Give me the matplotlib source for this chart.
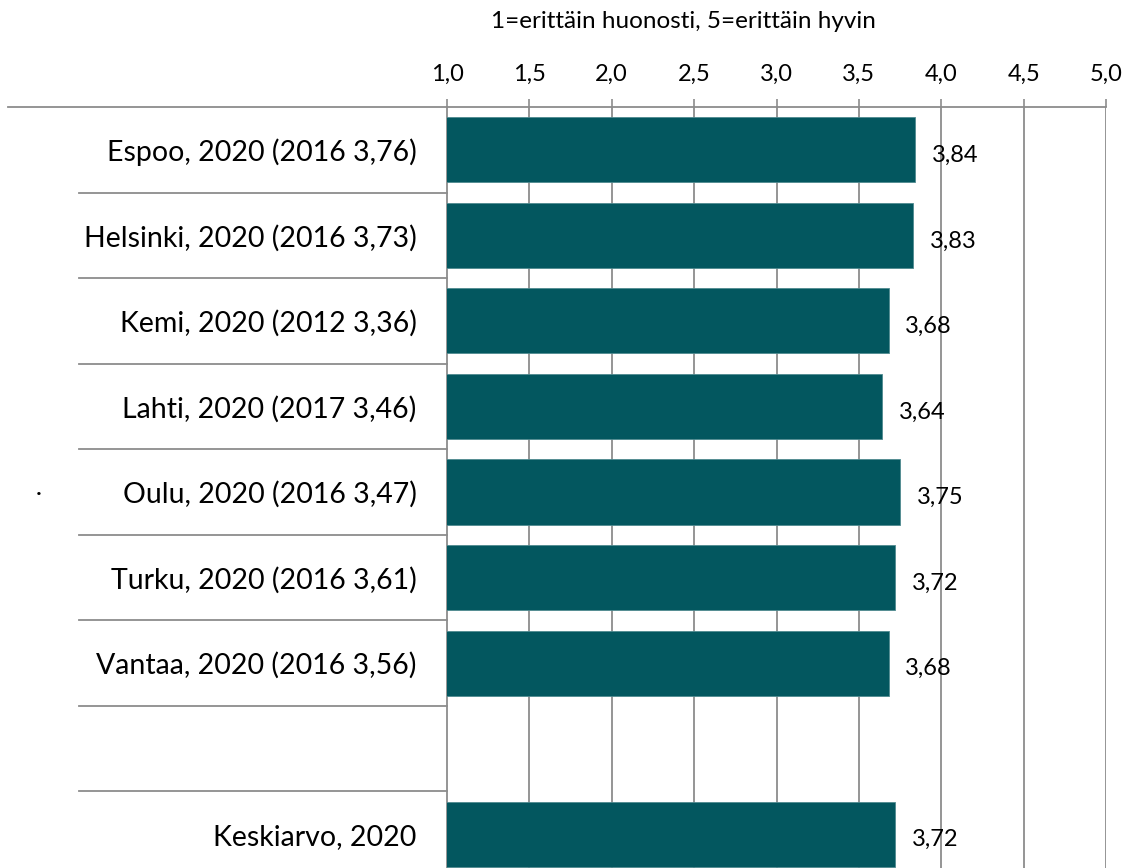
import numpy as np
import matplotlib
matplotlib.use('Agg')
from matplotlib import pyplot as plt
from matplotlib import transforms

plt.rcParams['font.family'] = ['Lato', 'DejaVu Sans']

# data
categories = ['Espoo, 2020 (2016 3,76)', 'Helsinki, 2020 (2016 3,73)',
              'Kemi, 2020 (2012 3,36)', 'Lahti, 2020 (2017 3,46)',
              'Oulu, 2020 (2016 3,47)', 'Turku, 2020 (2016 3,61)',
              'Vantaa, 2020 (2016 3,56)', '', 'Keskiarvo, 2020']
values = [3.84, 3.83, 3.68, 3.64, 3.75, 3.72, 3.68, np.nan, 3.72]
xticks = [1.0, 1.5, 2.0, 2.5, 3.0, 3.5, 4.0, 4.5, 5.0]
title = '1=erittäin huonosti, 5=erittäin hyvin'

W, H = 1126, 868
bar_color = '#03575f'
grid_color = '#8c8c8c'

fig = plt.figure(figsize=(W/100, H/100), dpi=100)
# axes box in pixels: x 447..1106, y 107..877 (bottom runs off the picture)
ax = fig.add_axes([447/W, 1 - 877/H, (1106-447)/W, (877-107)/H])

y = np.arange(len(categories))
ax.barh(y, values, height=0.76, color=bar_color, edgecolor='#4f8a90',
        linewidth=0.6, zorder=3)
ax.set_xlim(1, 5)
ax.set_ylim(len(categories) - 0.5, -0.5)

for yi, v in zip(y, values):
    if np.isnan(v):
        continue
    ax.annotate(f'{v:.2f}'.replace('.', ','), (v, yi), xytext=(12, -4),
                textcoords='offset points', ha='left', va='center',
                fontsize=17, zorder=4)

# x axis on top
ax.xaxis.tick_top()
ax.set_xticks(xticks)
ax.set_xticklabels([f'{t:.1f}'.replace('.', ',') for t in xticks], fontsize=17)
ax.tick_params(axis='x', length=6, width=1.2, color=grid_color, pad=10)
ax.set_yticks(y)
ax.set_yticklabels(categories, fontsize=20.5)
ax.tick_params(axis='y', length=0, pad=22)

for t in xticks[1:]:
    ax.axvline(t, color=grid_color, lw=1.3, zorder=1)
for s in ['top', 'right', 'bottom']:
    ax.spines[s].set_visible(False)
ax.spines['left'].set_color(grid_color)
ax.spines['left'].set_linewidth(1.3)

# category separators reaching out to the labels
tr = transforms.blended_transform_factory(fig.transFigure, ax.transData)
ax.plot([8/W, 1106/W], [-0.5, -0.5], color=grid_color, lw=1.3,
        transform=tr, clip_on=False, zorder=2)
for b in np.arange(0.5, len(categories) - 1, 1.0):
    ax.plot([79/W, 447/W], [b, b], color=grid_color, lw=1.3,
            transform=tr, clip_on=False, zorder=2)

fig.text(683/W, 1 - 22/H, title, ha='center', va='center', fontsize=17.5)
fig.text(39/W, 1 - 494/H, '·', ha='center', va='center', fontsize=16)

fig.savefig('out.png', dpi=100)
